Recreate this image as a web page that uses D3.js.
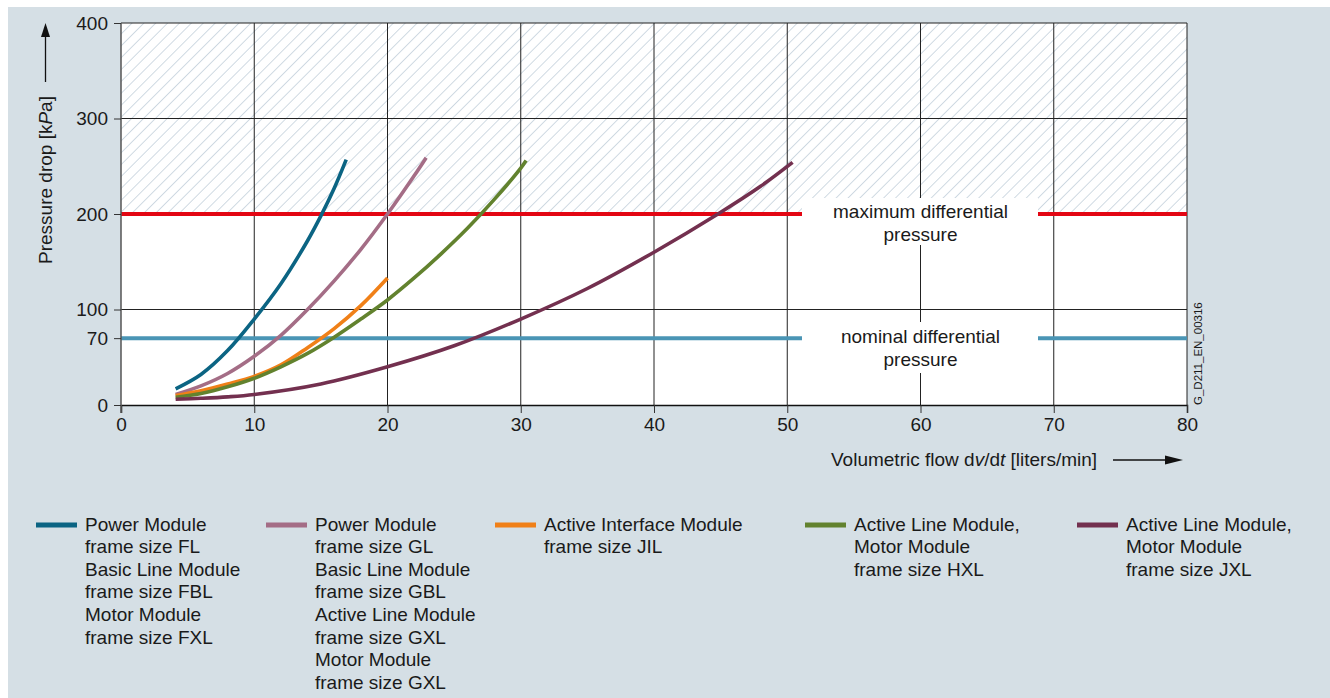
<!DOCTYPE html>
<html>
<head>
<meta charset="utf-8">
<script src="https://cdn.jsdelivr.net/npm/d3@7"></script>
<style>
  html, body { margin: 0; padding: 0; background: #ffffff; }
  svg { display: block; font-family: "Liberation Sans", Arial, sans-serif; }
</style>
</head>
<body>
<svg id="chart" width="1330" height="698"></svg>
<script>
// ---------------- DATA ----------------
const xTicks = [0, 10, 20, 30, 40, 50, 60, 70, 80];
const yTicks = [0, 70, 100, 200, 300, 400];
const maxDiffPressure = 200;
const nominalDiffPressure = 70;

// flow [l/min], pressure drop [kPa]
const seriesFL  = [[4.1,17],[6,32],[8,57],[10,90],[12,127],[14,172],[15,198],[16,227],[16.9,257]];
const seriesGL  = [[4.1,11],[6,20],[8,33],[10,51],[12,73],[14,100],[16,130],[18,163],[20,200],[22,240],[22.9,259]];
const seriesJIL = [[4.1,10],[6,15],[8,22],[10,30],[12,42],[14,60],[16,80],[18,104],[20,133]];
const seriesHXL = [[4.1,8],[6,12],[8,19],[10,28],[12,40],[14,54],[16,71],[18,90],[20,110],[22,133],[24,158],[26,185],[28,215],[30,248],[30.4,256]];
const seriesJXL = [[4.1,6],[6,7],[8,8.5],[10,11],[15,22],[20,40],[25,62],[30,90],[35,122],[40,160],[44.8,200],[48,229],[50.4,254]];

const seriesNames = [
  ["Power Module", "frame size FL", "Basic Line Module", "frame size FBL", "Motor Module", "frame size FXL"],
  ["Power Module", "frame size GL", "Basic Line Module", "frame size GBL", "Active Line Module", "frame size GXL", "Motor Module", "frame size GXL"],
  ["Active Interface Module", "frame size JIL"],
  ["Active Line Module,", "Motor Module", "frame size HXL"],
  ["Active Line Module,", "Motor Module", "frame size JXL"]
];
const seriesColors = ["#0b6483", "#a46d86", "#f08018", "#62822e", "#73304f"];
const allSeries = [seriesFL, seriesGL, seriesJIL, seriesHXL, seriesJXL];

const xAxisLabel = ["Volumetric flow d", "v", "/d", "t", " [liters/min]"];
const yAxisLabel = ["Pressure drop [k", "P", "a]"];
const maxLabel = ["maximum differential", "pressure"];
const nomLabel = ["nominal differential", "pressure"];
const docId = "G_D211_EN_00316";

// ---------------- LAYOUT ----------------
const svg = d3.select("#chart");
const L = 121, R = 1187, T = 23, B = 405;
const x = d3.scaleLinear().domain([0, 80]).range([L, R]);
const y = d3.scaleLinear().domain([0, 400]).range([B, T]);
const fontSize = 19;

// background panel
svg.append("rect").attr("x", 8).attr("y", 7).attr("width", 1322).attr("height", 691).attr("fill", "#d5dfe5");

// plot area
svg.append("rect").attr("x", L).attr("y", T).attr("width", R - L).attr("height", B - T).attr("fill", "#ffffff");

// hatch pattern
const defs = svg.append("defs");
const pat = defs.append("pattern").attr("id", "hatch").attr("patternUnits", "userSpaceOnUse")
  .attr("width", 8.4).attr("height", 8.4).attr("patternTransform", "rotate(45)");
pat.append("line").attr("x1", 0).attr("y1", 0).attr("x2", 0).attr("y2", 8.4)
  .attr("stroke", "#a9bccb").attr("stroke-width", 1.1);
svg.append("rect").attr("x", L).attr("y", y(400)).attr("width", R - L).attr("height", y(maxDiffPressure) - y(400))
  .attr("fill", "url(#hatch)");

// vertical grid lines
svg.append("g").selectAll("line").data(xTicks.slice(1)).join("line")
  .attr("x1", d => x(d)).attr("x2", d => x(d)).attr("y1", T).attr("y2", B)
  .attr("stroke", "#222").attr("stroke-width", 1);
// horizontal grid lines
svg.append("g").selectAll("line").data([100, 300, 400]).join("line")
  .attr("x1", L).attr("x2", R).attr("y1", d => y(d)).attr("y2", d => y(d))
  .attr("stroke", "#222").attr("stroke-width", 1);

// limit lines
svg.append("line").attr("x1", L).attr("x2", R).attr("y1", y(maxDiffPressure)).attr("y2", y(maxDiffPressure))
  .attr("stroke", "#e30613").attr("stroke-width", 4);
svg.append("line").attr("x1", L).attr("x2", R).attr("y1", y(nominalDiffPressure)).attr("y2", y(nominalDiffPressure))
  .attr("stroke", "#4a95b5").attr("stroke-width", 4);

// label boxes
const boxL = 802, boxR = 1038, cx = x(60);
svg.append("rect").attr("x", boxL).attr("y", 198).attr("width", boxR - boxL).attr("height", 47).attr("fill", "#fff");
svg.append("rect").attr("x", boxL).attr("y", 322).attr("width", boxR - boxL).attr("height", 51).attr("fill", "#fff");
function centerLines(lines, y0) {
  svg.append("g").selectAll("text").data(lines).join("text")
    .attr("x", cx).attr("y", (d, i) => y0 + i * 23).attr("text-anchor", "middle")
    .attr("font-size", fontSize).attr("fill", "#1a1a1a").text(d => d);
}
centerLines(maxLabel, 218);
centerLines(nomLabel, 343);

// curves
const line = d3.line().x(d => x(d[0])).y(d => y(d[1])).curve(d3.curveCatmullRom.alpha(0.5));
svg.append("g").selectAll("path").data(allSeries).join("path")
  .attr("d", d => line(d)).attr("fill", "none")
  .attr("stroke", (d, i) => seriesColors[i]).attr("stroke-width", 3.6);

// axes
const xAxis = svg.append("g").attr("transform", `translate(0,${B})`)
  .call(d3.axisBottom(x).tickValues(xTicks).tickSize(8).tickPadding(5).tickFormat(d3.format("d")));
xAxis.select(".domain").attr("stroke", "#111").attr("stroke-width", 1.5);
xAxis.selectAll(".tick line").attr("stroke", "#333");
xAxis.selectAll("text").attr("font-size", fontSize).attr("font-family", "Liberation Sans, Arial, sans-serif").attr("fill", "#1a1a1a");

const yAxis = svg.append("g").attr("transform", `translate(${L},0)`)
  .call(d3.axisLeft(y).tickValues(yTicks).tickSize(7).tickPadding(6).tickFormat(d3.format("d")));
yAxis.select(".domain").attr("stroke", "#555").attr("stroke-width", 1.5).attr("d", `M0,${T}V${B + 8}`);
yAxis.selectAll(".tick line").attr("stroke", "#333");
yAxis.selectAll("text").attr("font-size", fontSize).attr("font-family", "Liberation Sans, Arial, sans-serif").attr("fill", "#1a1a1a");

// y axis title with arrow
const yt = svg.append("text").attr("transform", "translate(52,180) rotate(-90)")
  .attr("text-anchor", "middle").attr("font-size", fontSize).attr("fill", "#1a1a1a");
yAxisLabel.forEach((s, i) => yt.append("tspan").attr("font-style", i === 1 ? "italic" : "normal").text(s));
svg.append("line").attr("x1", 45.5).attr("x2", 45.5).attr("y1", 82).attr("y2", 34).attr("stroke", "#111").attr("stroke-width", 1.3);
svg.append("path").attr("d", "M45.5,23 L41,37 L50,37 Z").attr("fill", "#111");

// x axis title with arrow
const xt = svg.append("text").attr("x", 831).attr("y", 466).attr("font-size", fontSize).attr("fill", "#1a1a1a");
xAxisLabel.forEach((s, i) => xt.append("tspan").attr("font-style", (i === 1 || i === 3) ? "italic" : "normal").text(s));
svg.append("line").attr("x1", 1113).attr("x2", 1168).attr("y1", 460).attr("y2", 460).attr("stroke", "#111").attr("stroke-width", 1.3);
svg.append("path").attr("d", "M1183,460 L1165,455.5 L1165,464.5 Z").attr("fill", "#111");

// doc id
svg.append("text").attr("transform", "translate(1202,405) rotate(-90)").attr("font-size", 11.5)
  .attr("fill", "#1a1a1a").text(docId);

// legend
const legendX = [36, 266, 495, 805, 1077];
const lg = svg.append("g").selectAll("g").data(seriesNames).join("g")
  .attr("transform", (d, i) => `translate(${legendX[i]},0)`);
lg.append("line").attr("x1", 0).attr("x2", 41).attr("y1", 525).attr("y2", 525)
  .attr("stroke", (d, i) => seriesColors[i]).attr("stroke-width", 5);
lg.each(function(names) {
  d3.select(this).selectAll("text").data(names).join("text")
    .attr("x", 49).attr("y", (d, i) => 530.5 + i * 22.6)
    .attr("font-size", fontSize).attr("fill", "#1a1a1a").text(d => d);
});
</script>
</body>
</html>
